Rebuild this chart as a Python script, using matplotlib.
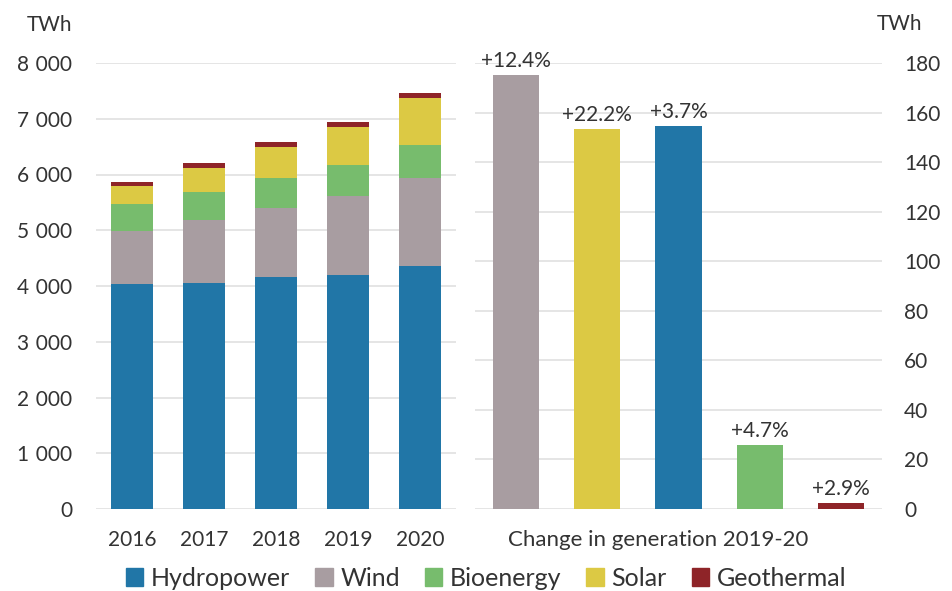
import matplotlib
matplotlib.use('Agg')
import matplotlib.pyplot as plt
import matplotlib.patches as mpatches
from matplotlib.ticker import FuncFormatter, MultipleLocator

plt.rcParams['font.family'] = ['Lato', 'DejaVu Sans']

# Dados (TWh)
anos = ['2016', '2017', '2018', '2019', '2020']
hidro = [4029, 4047, 4155, 4191, 4353]
eolica = [953, 1133, 1253, 1420, 1587]
bioenergia = [485, 503, 526, 556, 581]
solar = [330, 437, 563, 689, 844]
geotermica = [77, 83, 90, 90, 96]

fontes_variacao = ['Wind', 'Solar', 'Hydropower', 'Bioenergy', 'Geothermal']
variacao = [175.0, 153.2, 154.4, 25.7, 2.4]
rotulos_variacao = ['+12.4%', '+22.2%', '+3.7%', '+4.7%', '+2.9%']

cores = {
    'Hydropower': '#2176a7',
    'Wind': '#a89da1',
    'Bioenergy': '#77bc6d',
    'Solar': '#dcc944',
    'Geothermal': '#8e2428',
}
cor_texto = '#333333'
cor_grade = '#e3e3e3'

fig = plt.figure(figsize=(9.52, 5.91), dpi=100)
eixo1 = fig.add_axes([96 / 952, 82 / 591, 360 / 952, 446 / 591])
eixo2 = fig.add_axes([475 / 952, 82 / 591, 407 / 952, 446 / 591])

# Barras empilhadas
x = range(len(anos))
base = [0] * len(anos)
for nome, valores in [('Hydropower', hidro), ('Wind', eolica), ('Bioenergy', bioenergia),
                      ('Solar', solar), ('Geothermal', geotermica)]:
    eixo1.bar(x, valores, bottom=base, width=0.57, color=cores[nome], zorder=3)
    base = [b + v for b, v in zip(base, valores)]

eixo1.set_xlim(-0.5, 4.5)
eixo1.set_ylim(0, 8000)
eixo1.yaxis.set_major_locator(MultipleLocator(1000))
eixo1.yaxis.set_major_formatter(FuncFormatter(lambda v, p: f'{int(v):,}'.replace(',', ' \u200a')))
eixo1.set_xticks(list(x))
eixo1.set_xticklabels(anos)

# Variação 2019-20
xv = range(len(fontes_variacao))
eixo2.bar(xv, variacao, width=0.57, color=[cores[f] for f in fontes_variacao], zorder=3)
for i, (v, r) in enumerate(zip(variacao, rotulos_variacao)):
    eixo2.annotate(r, (i, v), xytext=(0, 3), textcoords='offset points', ha='center', va='bottom',
                   fontsize=15, color=cor_texto)
eixo2.set_xlim(-0.5, 4.5)
eixo2.set_ylim(0, 180)
eixo2.yaxis.set_major_locator(MultipleLocator(20))
eixo2.yaxis.tick_right()
eixo2.set_xticks([])

for eixo in (eixo1, eixo2):
    for s in eixo.spines.values():
        s.set_visible(False)
    eixo.grid(axis='y', color=cor_grade, linewidth=1.3, zorder=0)
    eixo.tick_params(length=0, labelsize=15, colors=cor_texto)
eixo1.tick_params(axis='y', pad=17)
eixo1.tick_params(axis='x', pad=15)
eixo2.tick_params(axis='y', pad=16)

fig.text(72 / 952, 1 - 25 / 591, 'TWh', ha='right', va='center', fontsize=15, color=cor_texto)
fig.text(877 / 952, 1 - 24 / 591, 'TWh', ha='left', va='center', fontsize=15, color=cor_texto)
fig.text(658 / 952, 1 - 540 / 591, 'Change in generation 2019-20', ha='center', va='center',
         fontsize=16, color=cor_texto)

handles = [mpatches.Patch(color=cores[n], label=n) for n in
           ['Hydropower', 'Wind', 'Bioenergy', 'Solar', 'Geothermal']]
fig.legend(handles=handles, loc='center', bbox_to_anchor=(486 / 952, 1 - 578 / 591), ncol=5,
           frameon=False, fontsize=18, handlelength=0.7, handleheight=0.7, handletextpad=0.3,
           columnspacing=1.0, labelcolor=cor_texto, borderpad=0)

fig.savefig('out.png', dpi=100)
